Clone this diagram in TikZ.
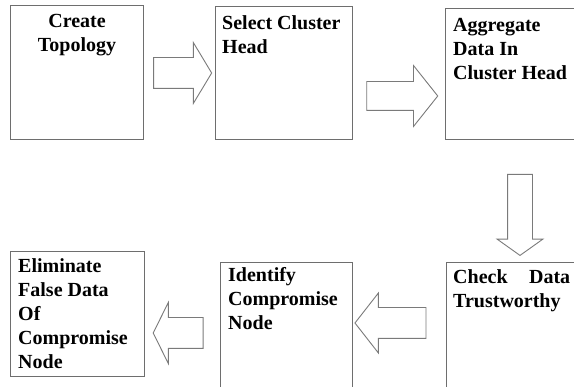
\documentclass[tikz,border=0pt]{standalone}
\usepackage{fontspec}
\setmainfont{Liberation Serif}
\usetikzlibrary{shapes.arrows}
\definecolor{linegray}{HTML}{6E6E6E}
\definecolor{arrowgray}{HTML}{7A7A7A}
\tikzset{
	box/.style={draw=linegray, line width=1.2pt, rectangle, inner sep=0pt, anchor=north west},
	boxtext/.style={anchor=base west, inner sep=0pt, font=\bfseries\fontsize{20}{24}\selectfont},
	blockarrow/.style={draw=arrowgray, line width=0.9pt, single arrow, inner xsep=0pt, minimum width=0pt}
}
\begin{document}
\begin{tikzpicture}[x=1pt, y=-1pt]
				\useasboundingbox (0,0) rectangle (574,387);
				\clip (0,0) rectangle (574,387);
				\node[box, minimum width=133pt, minimum height=134pt] (topo) at (10,5) {};
				\node[box, minimum width=137pt, minimum height=133pt] (chead) at (215,6) {};
				\node[box, minimum width=200pt, minimum height=131pt] (aggr) at (445,8) {};
				\node[box, minimum width=200pt, minimum height=200pt] (check) at (446,262) {};
				\node[box, minimum width=132pt, minimum height=200pt] (ident) at (220,262) {};
				\node[box, minimum width=134pt, minimum height=125pt] (elim) at (10,251) {};
				\node[boxtext, anchor=base] (topot) at (77,28) {\parbox[t]{133pt}{\centering Create\\Topology}};
				\node[boxtext] (cheadt) at (222,30) {\parbox[t]{128pt}{\raggedright Select Cluster\\Head}};
				\node[boxtext] (aggrt) at (453,32) {\parbox[t]{130pt}{\raggedright Aggregate\\Data In\\Cluster Head}};
				\node[boxtext] (checkt) at (453,284) {\parbox[t]{117pt}{Check\hfill Data\\Trustworthy}};
				\node[boxtext] (identt) at (228,282) {\parbox[t]{122pt}{\raggedright Identify\\Compromise\\Node}};
				\node[boxtext] (elimt) at (18,273) {\parbox[t]{124pt}{\raggedright Eliminate\\False Data\\Of\\Compromise\\Node}};
				\node[blockarrow, inner ysep=15pt, minimum height=58pt, single arrow head extend=15pt, single arrow tip angle=118] (a1) at (178,73) {};
				\node[blockarrow, inner ysep=14pt, minimum height=71pt, single arrow head extend=16pt, single arrow tip angle=103] (a2) at (396.5,96) {};
				\node[blockarrow, rotate=-90, inner ysep=12pt, minimum height=81pt, single arrow head extend=10.5pt, single arrow tip angle=109] (a3) at (520,210.5) {};
				\node[blockarrow, rotate=180, inner ysep=15pt, minimum height=71pt, single arrow head extend=14.5pt, single arrow tip angle=104] (a4) at (396.5,323) {};
				\node[blockarrow, rotate=180, inner ysep=15pt, minimum height=50pt, single arrow head extend=15pt, single arrow tip angle=127] (a5) at (182,333) {};
			\end{tikzpicture}
\end{document}
